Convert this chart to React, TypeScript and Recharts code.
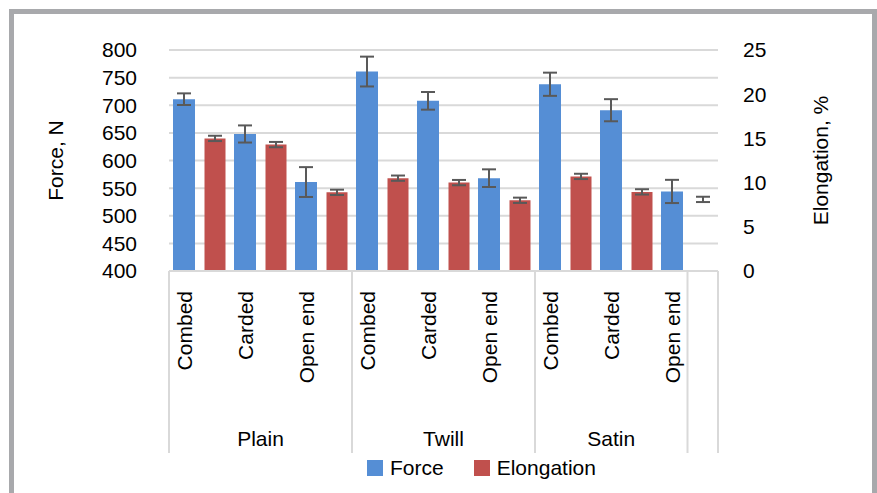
import { BarChart, Bar, XAxis, YAxis, CartesianGrid, ErrorBar, Legend, Cell, Label } from "recharts";

const yarns = ["Combed", "Carded", "Open end"];
const force = [711, 648, 561, 761, 708, 568, 738, 691, 544];
const forceErr = [10.5, 15.5, 27, 27, 16, 16, 21, 20, 21];
const elongation = [15.0, 14.3, 8.9, 10.5, 10.0, 8.0, 10.7, 8.95, 8.1];
const elongationErr = [0.3, 0.3, 0.3, 0.3, 0.3, 0.3, 0.3, 0.3, 0.3];
// last elongation bar is not drawn in the original, only its error bar
const elongationShown = [true, true, true, true, true, true, true, true, false];

// category axis groups (slots per group, as in the source sheet)
const groupNames = ["Plain", "Twill", "Satin", ""];
const groupSpans = [6, 6, 5, 1];

const forceTicks = [400, 450, 500, 550, 600, 650, 700, 750, 800];
const elongationTicks = [0, 5, 10, 15, 20, 25];
const legendOrder = ["Force", "Elongation"];

const FONT = "'Liberation Sans', Arial, sans-serif";
const BLUE = "#558ed5";
const RED = "#c0504d";
const LINE = "#d9d9d9";

const data = force.flatMap((f, k) => [
  { slot: 2 * k, label: yarns[k % 3], force: f, forceErr: forceErr[k] },
  {
    slot: 2 * k + 1,
    label: "",
    elongation: elongation[k],
    elongationErr: elongationErr[k],
    shown: elongationShown[k],
  },
]);

const groupStarts = groupSpans.map((_, g) => groupSpans.slice(0, g).reduce((a, b) => a + b, 0));

function CategoryTick(props: any) {
  const { x, y, payload } = props;
  const i = payload.value;
  const half = payload.offset || 15.25;
  const row = data[i];
  const g = groupStarts.indexOf(i);
  const last = i === data.length - 1;
  const ly = y + 20;
  return (
    <g>
      {g >= 0 && <line x1={x - half} x2={x - half} y1={y} y2={y + 182} stroke={LINE} strokeWidth={2} />}
      {last && <line x1={x + half} x2={x + half} y1={y} y2={y + 182} stroke={LINE} strokeWidth={2} />}
      {row && row.label && (
        <text
          x={x}
          y={ly}
          transform={`rotate(-90, ${x}, ${ly})`}
          textAnchor="end"
          dominantBaseline="central"
          fontSize={21}
          fill="#000"
          fontFamily={FONT}
        >
          {row.label}
        </text>
      )}
      {g >= 0 && groupNames[g] && (
        <text
          x={x - half + groupSpans[g] * half}
          y={y + 167}
          textAnchor="middle"
          dominantBaseline="central"
          fontSize={21}
          fill="#000"
          fontFamily={FONT}
        >
          {groupNames[g]}
        </text>
      )}
    </g>
  );
}

function AxisTitle({ viewBox, dx, text }: any) {
  const cx = viewBox.x + dx;
  const cy = viewBox.y + viewBox.height / 2;
  return (
    <text
      x={cx}
      y={cy}
      transform={`rotate(-90, ${cx}, ${cy})`}
      textAnchor="middle"
      dominantBaseline="central"
      fontSize={21}
      fill="#000"
      fontFamily={FONT}
    >
      {text}
    </text>
  );
}

const renderLegend = (props: any) => {
  const items = [...(props.payload || [])].sort(
    (a: any, b: any) => legendOrder.indexOf(a.value) - legendOrder.indexOf(b.value)
  );
  return (
    <div style={{ display: "flex", alignItems: "center", height: 30, paddingLeft: 367, fontSize: 21, color: "#000", fontFamily: FONT }}>
      {items.map((entry: any, i: number) => (
        <div key={i} style={{ display: "flex", alignItems: "center", marginLeft: i === 0 ? 0 : 30 }}>
          <span style={{ display: "inline-block", width: 16, height: 16, background: entry.color, marginRight: 7 }} />
          <span>{entry.value}</span>
        </div>
      ))}
    </div>
  );
};

export default function App() {
  return (
    <div style={{ position: "relative", width: 877, height: 493, overflow: "hidden", background: "#fff", fontFamily: FONT }}>
      <style>{`body { margin: 0; }`}</style>
      <div
        style={{
          position: "absolute",
          left: 9,
          top: 9,
          width: 868,
          height: 520,
          border: "5px solid #a8a9ac",
          boxSizing: "border-box",
        }}
      />
      <div style={{ position: "absolute", left: 0, top: 0 }}>
        <BarChart width={877} height={493} data={data} margin={{ top: 50, right: 0, bottom: 10, left: 0 }}>
          <CartesianGrid xAxisId="f" yAxisId="left" vertical={false} stroke={LINE} strokeWidth={2} />
          <XAxis
            xAxisId="f"
            dataKey="slot"
            height={182}
            interval={0}
            tickSize={0}
            tickMargin={0}
            tickLine={false}
            axisLine={{ stroke: LINE, strokeWidth: 2 }}
            tick={<CategoryTick />}
          />
          <XAxis xAxisId="e" dataKey="slot" hide height={0} />
          <YAxis
            yAxisId="left"
            orientation="left"
            domain={[400, 800]}
            ticks={forceTicks}
            interval={0}
            width={169}
            axisLine={false}
            tickLine={false}
            tickSize={0}
            tickMargin={32}
            tick={{ fontSize: 21, fill: "#000", fontFamily: FONT }}
          >
            <Label content={(p: any) => <AxisTitle viewBox={p.viewBox} dx={55} text="Force, N" />} />
          </YAxis>
          <YAxis
            yAxisId="right"
            orientation="right"
            domain={[0, 25]}
            ticks={elongationTicks}
            interval={0}
            width={159}
            axisLine={false}
            tickLine={false}
            tickSize={0}
            tickMargin={25}
            tick={{ fontSize: 21, fill: "#000", fontFamily: FONT }}
          >
            <Label content={(p: any) => <AxisTitle viewBox={p.viewBox} dx={102} text="Elongation, %" />} />
          </YAxis>
          <Legend verticalAlign="bottom" content={renderLegend} />
          <Bar xAxisId="f" yAxisId="left" dataKey="force" name="Force" fill={BLUE} barSize={22} isAnimationActive={false}>
            <ErrorBar dataKey="forceErr" width={7} strokeWidth={2} stroke="#595959" />
          </Bar>
          <Bar xAxisId="e" yAxisId="right" dataKey="elongation" name="Elongation" fill={RED} barSize={21} isAnimationActive={false}>
            {data.map((d, i) => (
              <Cell key={i} fill={d.shown === false ? "transparent" : RED} />
            ))}
            <ErrorBar dataKey="elongationErr" width={7} strokeWidth={2} stroke="#595959" />
          </Bar>
        </BarChart>
      </div>
    </div>
  );
}
